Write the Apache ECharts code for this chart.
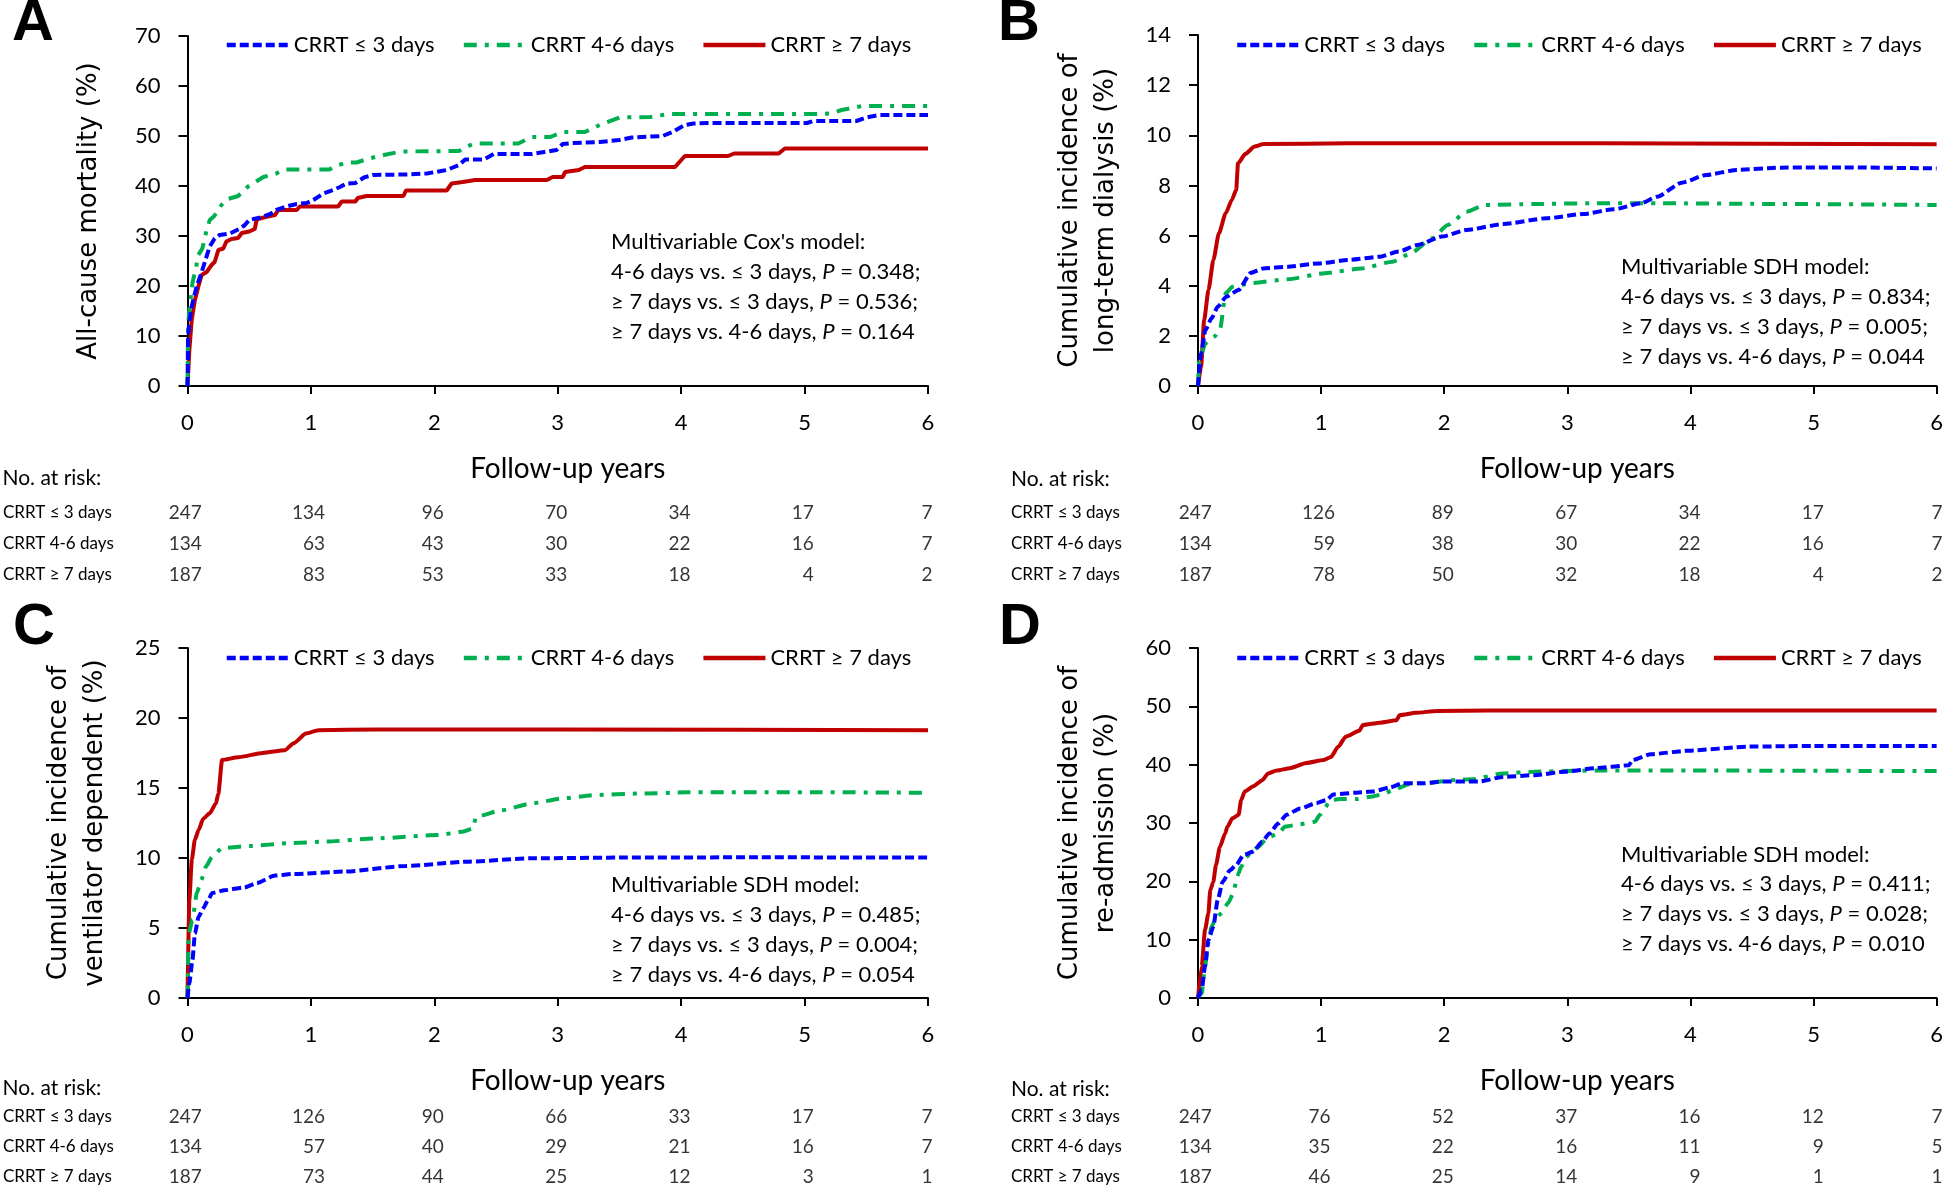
<!DOCTYPE html>
<html>
<head>
<meta charset="utf-8">
<script src="https://cdn.jsdelivr.net/npm/echarts@6/dist/echarts.min.js"></script>
<style>
html, body { margin: 0; padding: 0; background: #fff; }
#main { width: 1946px; height: 1197px; }
</style>
</head>
<body>
<div id="main"></div>
<script>
var years = [0, 1, 2, 3, 4, 5, 6];
var groupNames = ['CRRT ≤ 3 days', 'CRRT 4-6 days', 'CRRT ≥ 7 days'];

// A - all-cause mortality (%)
var mortLe3 = [[0,0],[0.005,10],[0.015,12.9],[0.034,15.9],[0.074,19.9],[0.115,22.8],[0.142,24.9],[0.18,27.9],[0.22,29.5],[0.26,30.2],[0.345,30.5],[0.425,31.5],[0.465,32.2],[0.5,33.2],[0.59,33.7],[0.67,34.4],[0.72,35.2],[0.8,35.9],[0.885,36.4],[0.965,36.6],[1.02,37.2],[1.1,38.5],[1.18,39.2],[1.235,39.8],[1.29,40.5],[1.36,40.6],[1.43,41.7],[1.5,42.2],[1.77,42.3],[1.94,42.5],[2.1,43.2],[2.2,44.2],[2.25,45.3],[2.4,45.3],[2.48,46.4],[2.79,46.4],[2.89,46.8],[2.99,47.2],[3.04,48.4],[3.12,48.6],[3.34,48.8],[3.5,49.2],[3.6,49.7],[3.85,50.0],[3.93,50.8],[4.03,52.2],[4.1,52.5],[4.26,52.6],[5.02,52.6],[5.07,53.0],[5.42,53.0],[5.5,53.7],[5.6,54.2],[6,54.2]];
var mort46 = [[0,0],[0.005,12],[0.015,15.2],[0.04,20.6],[0.07,23.8],[0.088,26.2],[0.12,27.5],[0.155,31.2],[0.18,33.2],[0.217,34],[0.275,36.2],[0.315,37.3],[0.41,38],[0.49,39.9],[0.53,40.5],[0.615,41.8],[0.72,42.5],[0.78,43.3],[1.15,43.3],[1.2,44],[1.29,44.7],[1.37,44.7],[1.47,45.5],[1.59,46.2],[1.73,46.9],[2.2,47],[2.25,47.8],[2.33,48.5],[2.68,48.5],[2.79,49.8],[2.94,49.8],[3.04,50.8],[3.22,50.8],[3.34,52.2],[3.5,53.7],[3.75,53.8],[3.9,54.4],[5.07,54.4],[5.22,54.5],[5.3,55.2],[5.47,56.0],[6,56.0]];
var mort7 = [[0,0],[0.015,7.2],[0.034,13.2],[0.06,17.2],[0.088,19.9],[0.115,22.2],[0.155,22.8],[0.195,24.2],[0.22,24.8],[0.25,27.2],[0.29,27.5],[0.315,28.9],[0.357,29.4],[0.41,29.6],[0.44,30.6],[0.5,30.9],[0.545,31.4],[0.56,33.2],[0.6,33.6],[0.65,33.9],[0.71,34.2],[0.735,35.2],[0.885,35.2],[0.91,35.9],[1.22,35.9],[1.25,36.9],[1.36,36.9],[1.38,37.6],[1.45,38],[1.75,38],[1.77,39.1],[2.1,39.1],[2.14,40.5],[2.23,40.8],[2.33,41.2],[2.91,41.2],[2.96,41.8],[3.04,41.8],[3.06,42.8],[3.17,43.2],[3.22,43.8],[3.95,43.8],[4.03,46],[4.38,46],[4.43,46.5],[4.79,46.5],[4.84,47.5],[6,47.5]];

// B - long-term dialysis (%)
var dialLe3 = [[0,0],[0.025,1.3],[0.06,2.23],[0.11,2.7],[0.16,3.16],[0.23,3.56],[0.33,3.83],[0.43,4.52],[0.53,4.69],[0.73,4.76],[0.98,4.89],[1.23,5.03],[1.48,5.16],[1.63,5.36],[1.78,5.62],[1.98,5.96],[2.18,6.22],[2.48,6.46],[2.83,6.69],[3.13,6.86],[3.38,7.05],[3.6,7.29],[3.73,7.55],[3.93,8.11],[4.13,8.42],[4.38,8.62],[4.73,8.71],[5.23,8.72],[6,8.68]];
var dial46 = [[0,0],[0.01,1.0],[0.06,1.7],[0.135,1.97],[0.18,2.3],[0.225,3.7],[0.28,3.96],[0.43,4.1],[0.73,4.26],[1.03,4.5],[1.33,4.69],[1.58,4.96],[1.73,5.29],[1.9,5.89],[2.03,6.42],[2.18,6.95],[2.33,7.22],[2.73,7.26],[3.23,7.29],[3.73,7.29],[4.73,7.26],[6,7.22]];
var dial7 = [[0,0],[0.025,0.77],[0.05,2.63],[0.085,3.83],[0.125,5.03],[0.17,6.09],[0.225,6.89],[0.275,7.42],[0.31,7.82],[0.325,8.88],[0.385,9.26],[0.46,9.55],[0.53,9.65],[1.23,9.68],[3.23,9.68],[6,9.64]];

// C - ventilator dependent (%)
var ventLe3 = [[0,0],[0.015,1.07],[0.04,2.7],[0.06,4.6],[0.09,5.8],[0.127,6.4],[0.167,7.0],[0.2,7.5],[0.3,7.7],[0.46,7.9],[0.56,8.2],[0.71,8.75],[0.86,8.86],[1.27,9.03],[1.77,9.43],[2.28,9.74],[2.79,9.98],[3.55,10.03],[4.56,10.05],[6,10.03]];
var vent46 = [[0,0],[0.01,4.6],[0.04,5.6],[0.076,7.5],[0.11,8.4],[0.15,9.4],[0.2,10.1],[0.28,10.7],[0.51,10.86],[0.81,11.05],[1.12,11.17],[1.52,11.4],[2.03,11.64],[2.23,11.88],[2.31,12.1],[2.34,12.95],[2.54,13.4],[2.79,13.9],[3.04,14.26],[3.3,14.5],[3.65,14.6],[4.06,14.69],[4.56,14.7],[5.07,14.7],[6,14.66]];
var vent7 = [[0,0],[0.015,7.0],[0.035,9.9],[0.06,11.3],[0.09,12.0],[0.127,12.8],[0.18,13.2],[0.23,13.9],[0.25,14.6],[0.28,17.0],[0.41,17.2],[0.61,17.5],[0.79,17.7],[0.86,18.2],[0.96,18.9],[1.06,19.13],[1.52,19.18],[3.04,19.18],[6,19.13]];

// D - re-admission (%)
var readmLe3 = [[0,0],[0.03,1.4],[0.057,5.4],[0.084,9.9],[0.124,12.2],[0.16,16.8],[0.2,19.9],[0.26,21.9],[0.31,22.8],[0.37,24.5],[0.45,25.1],[0.52,26.8],[0.58,28.2],[0.65,29.9],[0.72,31.4],[0.83,32.5],[0.96,33.4],[1.04,33.9],[1.1,34.9],[1.29,35.2],[1.42,35.4],[1.56,36.1],[1.66,36.8],[1.83,36.8],[1.99,37.1],[2.28,37.1],[2.48,37.9],[2.73,38.2],[2.98,38.8],[3.23,39.4],[3.5,39.9],[3.53,40.8],[3.68,41.8],[3.98,42.4],[4.48,43.1],[5,43.2],[6,43.2]];
var readm46 = [[0,0],[0.03,0.8],[0.057,5.4],[0.084,9.4],[0.11,12.2],[0.15,13.9],[0.19,14.5],[0.245,16.3],[0.286,17.9],[0.31,19.9],[0.33,21.4],[0.35,22.5],[0.395,24.2],[0.435,25.1],[0.49,25.9],[0.56,27.4],[0.65,28.2],[0.71,29.4],[0.83,29.8],[0.95,30.2],[0.99,31.4],[1.03,32.5],[1.07,33.9],[1.15,34.1],[1.29,34.1],[1.4,34.5],[1.5,34.9],[1.58,35.6],[1.72,36.7],[1.88,36.9],[2.1,37.4],[2.23,37.5],[2.48,38.5],[2.73,38.8],[3.23,39.0],[3.73,39.0],[6,38.9]];
var readm7 = [[0,0],[0.03,5.4],[0.057,11.65],[0.084,14.5],[0.1,18.5],[0.124,19.9],[0.146,22.8],[0.178,25.9],[0.22,28.2],[0.24,29.4],[0.28,30.8],[0.33,31.4],[0.35,33.9],[0.38,35.4],[0.45,36.3],[0.52,37.3],[0.57,38.5],[0.64,39.0],[0.745,39.4],[0.88,40.3],[1.02,40.8],[1.08,41.3],[1.14,43.1],[1.2,44.8],[1.31,45.8],[1.34,46.8],[1.48,47.2],[1.61,47.6],[1.64,48.5],[1.77,48.9],[1.94,49.2],[2.37,49.3],[6,49.3]];

// numbers at risk, one value per year tick
var riskALe3 = [247,134,96,70,34,17,7];
var riskA46  = [134,63,43,30,22,16,7];
var riskA7   = [187,83,53,33,18,4,2];
var riskBLe3 = [247,126,89,67,34,17,7];
var riskB46  = [134,59,38,30,22,16,7];
var riskB7   = [187,78,50,32,18,4,2];
var riskCLe3 = [247,126,90,66,33,17,7];
var riskC46  = [134,57,40,29,21,16,7];
var riskC7   = [187,73,44,25,12,3,1];
var riskDLe3 = [247,76,52,37,16,12,7];
var riskD46  = [134,35,22,16,11,9,5];
var riskD7   = [187,46,25,14,9,1,1];

var pValsA = ['0.348', '0.536', '0.164'];
var pValsB = ['0.834', '0.005', '0.044'];
var pValsC = ['0.485', '0.004', '0.054'];
var pValsD = ['0.411', '0.028', '0.010'];

var colors = ['#0000ff', '#00b050', '#c00000'];
var dashes = [[9, 4], [13, 8, 4, 8], 'solid'];
var FONT = 'Lato, "Open Sans", sans-serif';

var panels = [
  { letter: 'A', lx: 33, ly: 24, left: 187.5, top: 36, width: 740.5, height: 350, riskTop: 497.5, riskH: 93,
    yMax: 70, yStep: 10, yName: 'All-cause mortality (%)', nameGap: 80,
    lines: [mortLe3, mort46, mort7], risk: [riskALe3, riskA46, riskA7], smooth: false,
    legendTop: 34, noRiskY: 478, rowMargin: 185, model: "Multivariable Cox's model:", p: pValsA, annoY: 242 },
  { letter: 'B', lx: 1019, ly: 24, left: 1198, top: 35, width: 740, height: 351, riskTop: 497.5, riskH: 93,
    yMax: 14, yStep: 2, yName: 'Cumulative incidence of\nlong-term dialysis (%)', nameGap: 74,
    lines: [dialLe3, dial46, dial7], risk: [riskBLe3, riskB46, riskB7], smooth: true,
    legendTop: 34, noRiskY: 479, rowMargin: 187, model: 'Multivariable SDH model:', p: pValsB, annoY: 267 },
  { letter: 'C', lx: 34, ly: 628, left: 187.5, top: 648, width: 740.5, height: 350, riskTop: 1102, riskH: 90,
    yMax: 25, yStep: 5, yName: 'Cumulative incidence of\nventilator dependent (%)', nameGap: 74,
    lines: [ventLe3, vent46, vent7], risk: [riskCLe3, riskC46, riskC7], smooth: true,
    legendTop: 647, noRiskY: 1088, rowMargin: 185, model: 'Multivariable SDH model:', p: pValsC, annoY: 885 },
  { letter: 'D', lx: 1020, ly: 628, left: 1198, top: 648, width: 740, height: 350, riskTop: 1102, riskH: 90,
    yMax: 60, yStep: 10, yName: 'Cumulative incidence of\nre-admission (%)', nameGap: 74,
    lines: [readmLe3, readm46, readm7], risk: [riskDLe3, riskD46, riskD7], smooth: true,
    legendTop: 647, noRiskY: 1089, rowMargin: 187, model: 'Multivariable SDH model:', p: pValsD, annoY: 855 }
];

var compLabels = ['4-6 days vs. ≤ 3 days, ', '≥ 7 days vs. ≤ 3 days, ', '≥ 7 days vs. 4-6 days, '];
var compEnds = [';', ';', ''];

var grid = [], xAxis = [], yAxis = [], series = [], legend = [], graphic = [];
var axisLineStyle = { color: '#000', width: 2 };

panels.forEach(function (pn, i) {
  var g = grid.length;
  grid.push({ left: pn.left, top: pn.top, width: pn.width, height: pn.height });
  grid.push({ left: pn.left, top: pn.riskTop, width: pn.width, height: pn.riskH });

  xAxis.push({
    gridIndex: g, type: 'value', min: 0, max: 6, interval: 1,
    name: 'Follow-up years', nameLocation: 'middle', nameGap: 69,
    nameTextStyle: { fontFamily: FONT, fontSize: 28, color: '#000', padding: [0, 0, 0, 20] },
    axisLine: { lineStyle: axisLineStyle },
    axisTick: { length: 8, lineStyle: axisLineStyle },
    axisLabel: { fontFamily: FONT, fontSize: 22, color: '#000', margin: 26 },
    splitLine: { show: false }
  });
  xAxis.push({ gridIndex: g + 1, type: 'value', min: 0, max: 6, show: false });

  yAxis.push({
    gridIndex: g, type: 'value', min: 0, max: pn.yMax, interval: pn.yStep,
    name: pn.yName, nameLocation: 'middle', nameRotate: 90, nameGap: pn.nameGap,
    nameTextStyle: { fontFamily: '"DejaVu Sans", sans-serif', fontSize: 26, color: '#000', lineHeight: 36 },
    axisLine: { show: true, lineStyle: axisLineStyle },
    axisTick: { show: true, length: 9, lineStyle: axisLineStyle },
    axisLabel: { fontFamily: FONT, fontSize: 22, color: '#000', margin: 27 },
    splitLine: { show: false }
  });
  yAxis.push({
    gridIndex: g + 1, type: 'category', inverse: true, data: groupNames,
    axisLine: { show: false }, axisTick: { show: false }, splitLine: { show: false },
    axisLabel: { fontFamily: FONT, fontSize: 17, color: '#000', align: 'left', margin: pn.rowMargin }
  });

  pn.lines.forEach(function (d, k) {
    series.push({
      name: groupNames[k], type: 'line', xAxisIndex: g, yAxisIndex: g,
      data: d, symbol: 'none', smooth: pn.smooth ? 0.2 : false, smoothMonotone: 'x',
      lineStyle: { color: colors[k], width: 4, type: dashes[k] },
      itemStyle: { color: colors[k] }, z: 5 - k
    });
  });

  // numbers at risk, right aligned per column
  var colDigits = years.map(function (y, c) {
    return Math.max.apply(null, pn.risk.map(function (r) { return String(r[c]).length; }));
  });
  pn.risk.forEach(function (row, k) {
    series.push({
      type: 'scatter', xAxisIndex: g + 1, yAxisIndex: g + 1, silent: true,
      symbolSize: 1, itemStyle: { color: 'rgba(0,0,0,0)' },
      data: row.map(function (n, c) {
        return { value: [years[c], k, n], label: { offset: [colDigits[c] * 4.6, 0] } };
      }),
      label: {
        show: true, position: 'inside', align: 'right', verticalAlign: 'middle',
        fontFamily: FONT, fontSize: 19, color: '#000',
        formatter: function (p) { return String(p.value[2]); }
      }
    });
  });

  legend.push({
    left: pn.left + 37, top: pn.legendTop, padding: 0,
    itemWidth: 62, itemHeight: 14, itemGap: 27,
    data: groupNames, selectedMode: false,
    itemStyle: { opacity: 0 },
    lineStyle: { width: 4.5 },
    textStyle: { fontFamily: FONT, fontSize: 22, color: '#000' }
  });

  graphic.push({
    type: 'text', x: pn.lx, y: pn.ly,
    style: { text: pn.letter, font: 'bold 58px "Liberation Sans", Arial', fill: '#000', align: 'center', verticalAlign: 'middle' }
  });
  graphic.push({
    type: 'text', x: pn.left - pn.rowMargin, y: pn.noRiskY,
    style: { text: 'No. at risk:', font: '21px ' + FONT, fill: '#000', align: 'left', verticalAlign: 'middle' }
  });
  var ax = pn.left + (i % 2 === 0 ? 423.5 : 423);
  graphic.push({
    type: 'text', x: ax, y: pn.annoY,
    style: { text: pn.model, font: '22px ' + FONT, fill: '#000', align: 'left', verticalAlign: 'middle' }
  });
  pn.p.forEach(function (pv, k) {
    graphic.push({
      type: 'text', x: ax, y: pn.annoY + 30 * (k + 1) - (i === 3 ? 1 : 0),
      style: {
        text: '{n|' + compLabels[k] + '}{i|P}{n| = ' + pv + compEnds[k] + '}',
        verticalAlign: 'middle', align: 'left',
        rich: {
          n: { fontFamily: FONT, fontSize: 22, fill: '#000', color: '#000' },
          i: { fontFamily: FONT, fontSize: 22, fontStyle: 'italic', fill: '#000', color: '#000' }
        }
      }
    });
  });
});

var chart = echarts.init(document.getElementById('main'), null, { renderer: 'canvas' });
chart.setOption({
  backgroundColor: '#fff',
  animation: false,
  grid: grid,
  xAxis: xAxis,
  yAxis: yAxis,
  legend: legend,
  series: series,
  graphic: graphic
});
</script>
</body>
</html>
